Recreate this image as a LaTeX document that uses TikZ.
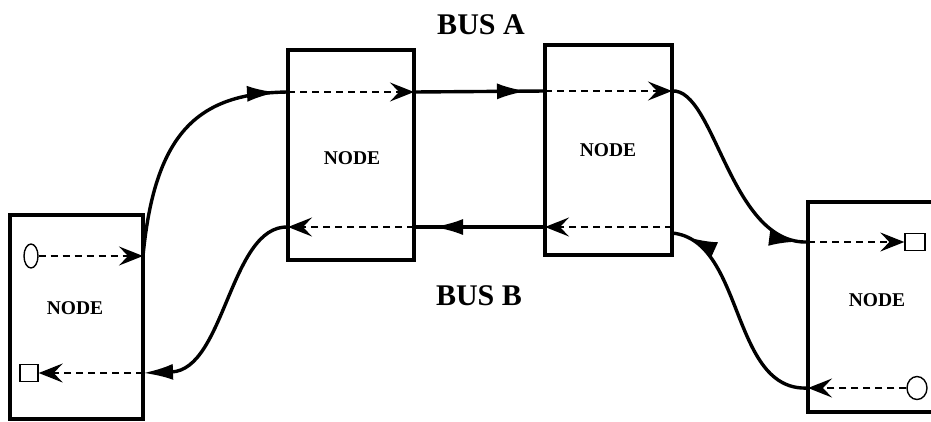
\documentclass[tikz,border=0pt]{standalone}
\usepackage{fontspec}
\setmainfont{Liberation Serif}
\usetikzlibrary{arrows.meta,shapes.geometric,decorations.markings}
\begin{document}
\begin{tikzpicture}[x=1pt,y=-1pt,
  unit/.style={draw, line width=4pt, rectangle, outer sep=0pt, inner sep=0pt},
  tag/.style={font=\fontsize{19.5}{19.5}\selectfont\bfseries, inner sep=0pt},
  bus/.style={font=\fontsize{30}{30}\selectfont\bfseries, inner sep=0pt},
  port/.style={draw, line width=1.4pt, inner sep=0pt, fill=white},
  local/.style={line width=1.7pt, dash pattern=on 7pt off 5pt,
    -{Stealth[length=24pt,width=19pt,inset=9pt]}},
  link/.style={line width=3.4pt},
  tipat/.style={postaction={decorate}, decoration={markings,
    mark=at position #1 with {\arrow{Latex[length=30pt,width=16pt]}}}},
]
\useasboundingbox (0,0) rectangle (931,421);
\clip (0,0) rectangle (931,421);

% station boxes
\node[unit, minimum width=133pt, minimum height=204pt] (nl) at (76.5,317) {};
\node[unit, minimum width=126pt, minimum height=210pt] (n1) at (351,155) {};
\node[unit, minimum width=127pt, minimum height=210pt] (n2) at (608.5,150) {};
\node[unit, minimum width=160pt, minimum height=210pt] (nr) at (888,307) {};

% labels
\node[tag] (tl) at (75,308) {NODE};
\node[tag] (t1) at (352,158) {NODE};
\node[tag] (t2) at (608,150) {NODE};
\node[tag] (tr) at (877,300) {NODE};
\node[bus] (busa) at (481,25) {BUS A};
\node[bus] (busb) at (479,296) {BUS B};

% head and tail stations
\node[port, ellipse, minimum width=14pt, minimum height=24pt] (srcl) at (31,256) {};
\node[port, minimum width=18pt, minimum height=17pt] (snkl) at (29,373) {};
\node[port, minimum width=20pt, minimum height=17pt] (snkr) at (915,242) {};
\node[port, ellipse, minimum width=20pt, minimum height=23pt] (srcr) at (917,388) {};

% attachment points on the box edges
\coordinate (la)  at (nl.east |- 0,256);
\coordinate (lb)  at (nl.east |- 0,373);
\coordinate (1aw) at (n1.west |- 0,92);
\coordinate (1ae) at (n1.east |- 0,92);
\coordinate (1bw) at (n1.west |- 0,227);
\coordinate (1be) at (n1.east |- 0,227);
\coordinate (2aw) at (n2.west |- 0,91);
\coordinate (2ae) at (n2.east |- 0,91);
\coordinate (2bw) at (n2.west |- 0,227);
\coordinate (2be) at (n2.east |- 0,227);
\coordinate (2bc) at (n2.east |- 0,233);
\coordinate (ra)  at (nr.west |- 0,242);
\coordinate (rb)  at (nr.west |- 0,388);

% taps inside the stations
\draw[local] (srcl.east) -- (la);
\draw[local] (1aw) -- (1ae);
\draw[local] (2aw) -- (2ae);
\draw[local] (ra) -- (snkr.west);
\draw[local] (srcr.west) -- (rb);
\draw[local] (2be) -- (2bw);
\draw[local] (1be) -- (1bw);
\draw[local] (lb) -- (snkl.east);

% bus A
\draw[link, tipat=-11pt] (la) .. controls (155,130) and (200,93) .. (1aw);
\draw[link, tipat=-18pt] (1ae) -- (2aw);
\draw[link, tipat=-9pt] (2ae) .. controls (715,88) and (730,245) .. (ra);

% bus B
\draw[link, tipat=-16pt] (rb) .. controls (730,392) and (745,240) .. (2bc);
\draw[link, tipat=-19pt] (2bw) -- (1be);
\draw[link, -{Latex[length=30pt,width=16pt]}] (1bw) .. controls (230,225) and (225,370) .. (lb);
\end{tikzpicture}
\end{document}
